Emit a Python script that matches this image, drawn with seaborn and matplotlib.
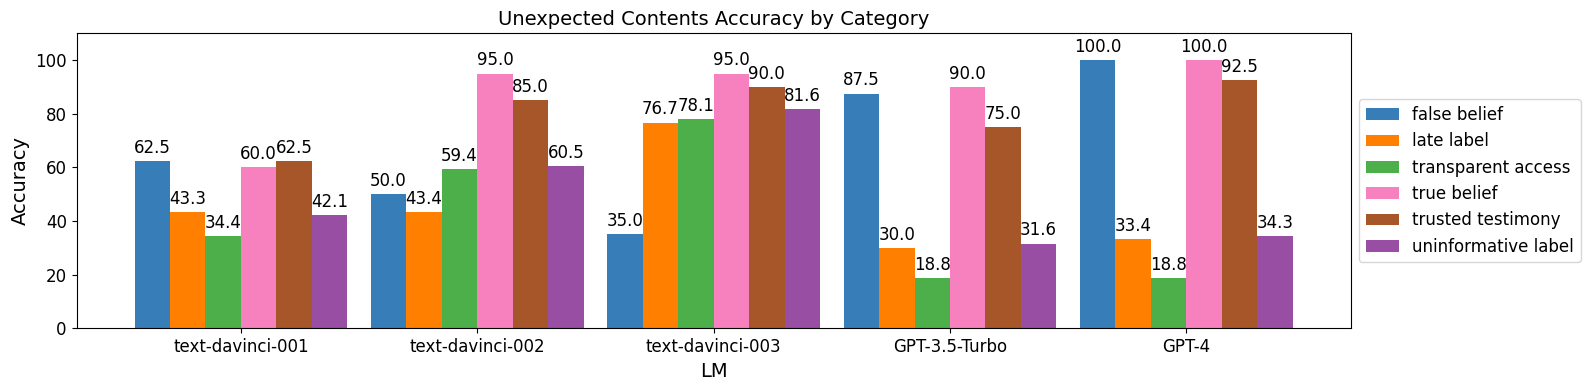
import matplotlib
matplotlib.use("Agg")
import matplotlib.pyplot as plt
import seaborn as sns
import pandas as pd

models = ["text-davinci-001", "text-davinci-002", "text-davinci-003", "GPT-3.5-Turbo", "GPT-4"]
categories = ["false belief", "late label", "transparent access", "true belief",
              "trusted testimony", "uninformative label"]
false_belief = [62.5, 50.0, 35.0, 87.5, 100.0]
late_label = [43.3, 43.4, 76.7, 30.0, 33.4]
transparent_access = [34.4, 59.4, 78.1, 18.8, 18.8]
true_belief = [60.0, 95.0, 95.0, 90.0, 100.0]
trusted_testimony = [62.5, 85.0, 90.0, 75.0, 92.5]
uninformative_label = [42.1, 60.5, 81.6, 31.6, 34.3]
colors = ["#377eb8", "#ff7f00", "#4daf4a", "#f781bf", "#a65628", "#984ea3"]

series = [false_belief, late_label, transparent_access, true_belief,
          trusted_testimony, uninformative_label]
rows = []
for cat, vals in zip(categories, series):
    for m, v in zip(models, vals):
        rows.append({"LM": m, "Category": cat, "Accuracy": v})
df = pd.DataFrame(rows)

fig, ax = plt.subplots(figsize=(15.89, 3.90), dpi=100)
fig.subplots_adjust(left=0.0482, right=0.85, top=0.9146, bottom=0.158)
sns.barplot(data=df, x="LM", y="Accuracy", hue="Category", order=models,
            hue_order=categories, palette=colors, width=0.9, saturation=1,
            errorbar=None, ax=ax)
for cont in ax.containers:
    ax.bar_label(cont, fmt="%.1f", padding=3, fontsize=12)
ax.set_ylim(0, 110)
ax.set_xlim(-0.695, 4.695)
ax.set_title("Unexpected Contents Accuracy by Category", fontsize=14)
ax.set_xlabel("LM", fontsize=14)
ax.set_ylabel("Accuracy", fontsize=14)
ax.tick_params(labelsize=12)
ax.legend(loc="center left", bbox_to_anchor=(1.0, 0.5), fontsize=12)
fig.savefig("out.png", dpi=100)
